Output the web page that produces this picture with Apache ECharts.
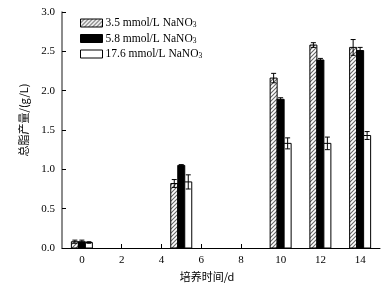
<!DOCTYPE html>
<html>
<head>
<meta charset="utf-8">
<script src="https://cdn.jsdelivr.net/npm/echarts@6/dist/echarts.min.js"></script>
<style>
  html, body { margin: 0; padding: 0; background: #fff; }
  #chart { width: 391px; height: 290px; }
</style>
</head>
<body>
<div id="chart"></div>
<script>
// 培养天数
const days = [0, 5, 10, 12, 14];
const xTicks = [0, 2, 4, 6, 8, 10, 12, 14];
const seriesNames = ['3.5 mmol/L NaNO3', '5.8 mmol/L NaNO3', '17.6 mmol/L NaNO3'];
// 总脂产量 g/L 及误差
const lipid35 = [0.08, 0.82, 2.16, 2.58, 2.55];
const err35 = [0.02, 0.05, 0.06, 0.03, 0.10];
const lipid58 = [0.08, 1.05, 1.89, 2.39, 2.51];
const err58 = [0.02, 0.01, 0.02, 0.02, 0.04];
const lipid176 = [0.07, 0.84, 1.33, 1.33, 1.43];
const err176 = [0.01, 0.09, 0.07, 0.08, 0.05];

// 斜线填充
const hatch = document.createElement('canvas');
hatch.width = 4;
hatch.height = 4;
const hc = hatch.getContext('2d');
hc.fillStyle = '#fff';
hc.fillRect(0, 0, 4, 4);
hc.strokeStyle = '#666';
hc.lineWidth = 1.1;
hc.beginPath();
hc.moveTo(0, 4); hc.lineTo(4, 0);
hc.moveTo(-1, 1); hc.lineTo(1, -1);
hc.moveTo(3, 5); hc.lineTo(5, 3);
hc.stroke();
const hatchFill = { image: hatch, repeat: 'repeat' };

const fills = [hatchFill, '#000', '#fff'];
const values = [lipid35, lipid58, lipid176];
const errors = [err35, err58, err176];
const barW = 7;
const font = '"Liberation Serif", "Times New Roman", serif';

function makeSeries(k) {
  const off = (k - 1) * barW;
  return {
    name: seriesNames[k],
    type: 'custom',
    itemStyle: { color: fills[k], borderColor: '#000', borderWidth: 1 },
    data: days.map((d, i) => [d, values[k][i], errors[k][i]]),
    renderItem: (params, api) => {
      const x = api.value(0), v = api.value(1), e = api.value(2);
      const top = api.coord([x, v]);
      const base = api.coord([x, 0]);
      const cx = top[0] + off;
      const hi = api.coord([x, v + e])[1];
      const lo = api.coord([x, v - e])[1];
      const cap = 2.5;
      const ls = { stroke: '#000', lineWidth: 1 };
      return {
        type: 'group',
        children: [
          { type: 'rect', shape: { x: cx - barW / 2, y: top[1], width: barW, height: base[1] - top[1] },
            style: { fill: fills[k], stroke: '#000', lineWidth: 1 } },
          { type: 'line', shape: { x1: cx, y1: hi, x2: cx, y2: lo }, style: ls },
          { type: 'line', shape: { x1: cx - cap, y1: hi, x2: cx + cap, y2: hi }, style: ls },
          { type: 'line', shape: { x1: cx - cap, y1: lo, x2: cx + cap, y2: lo }, style: ls }
        ]
      };
    }
  };
}

const myChart = echarts.init(document.getElementById('chart'));
myChart.setOption({
  animation: false,
  grid: { left: 62, right: 11, top: 12, bottom: 42 },
  legend: {
    orient: 'vertical',
    left: 80,
    top: 17,
    padding: 0,
    itemWidth: 22,
    itemHeight: 8,
    itemGap: 3,
    data: seriesNames.map((n, k) => ({
      name: n,
      icon: 'rect',
      itemStyle: { color: fills[k], borderColor: '#000', borderWidth: 1 }
    })),
    formatter: name => '{a|' + name.slice(0, -1) + '}{s|3}',
    textStyle: {
      padding: [0, 0, 0, -2],
      rich: {
        a: { fontFamily: font, fontSize: 11.5, color: '#000', lineHeight: 13 },
        s: { fontFamily: font, fontSize: 7.5, color: '#000', lineHeight: 11, verticalAlign: 'bottom' }
      }
    }
  },
  xAxis: {
    type: 'value',
    min: -1,
    max: 15,
    name: '培养时间/d',
    nameLocation: 'middle',
    nameGap: 22,
    nameTextStyle: { fontFamily: '"Noto Sans CJK SC"', fontSize: 11, color: '#000', padding: [0, 28, 0, 0] },
    splitLine: { show: false },
    axisLine: { onZero: false, lineStyle: { color: '#000', width: 1 } },
    axisTick: { inside: true, length: 4, customValues: xTicks, lineStyle: { color: '#000' } },
    axisLabel: { customValues: xTicks, fontFamily: font, fontSize: 11, color: '#000', margin: 7 }
  },
  yAxis: {
    type: 'value',
    min: 0,
    max: 3,
    interval: 0.5,
    name: '总脂产量/(g/L)',
    nameLocation: 'middle',
    nameGap: 33,
    nameTextStyle: { fontFamily: '"Noto Sans CJK SC"', fontSize: 11, color: '#000', padding: [0, 0, 0, 20] },
    splitLine: { show: false },
    axisLine: { show: true, onZero: false, lineStyle: { color: '#666', width: 1.5 } },
    axisTick: { show: true, inside: true, length: 4, lineStyle: { color: '#000' } },
    axisLabel: { formatter: v => v.toFixed(1), fontFamily: font, fontSize: 11, color: '#000', margin: 7 }
  },
  series: [0, 1, 2].map(makeSeries)
});

window.addEventListener('resize', () => {
  myChart.resize();
});
</script>
</body>
</html>
